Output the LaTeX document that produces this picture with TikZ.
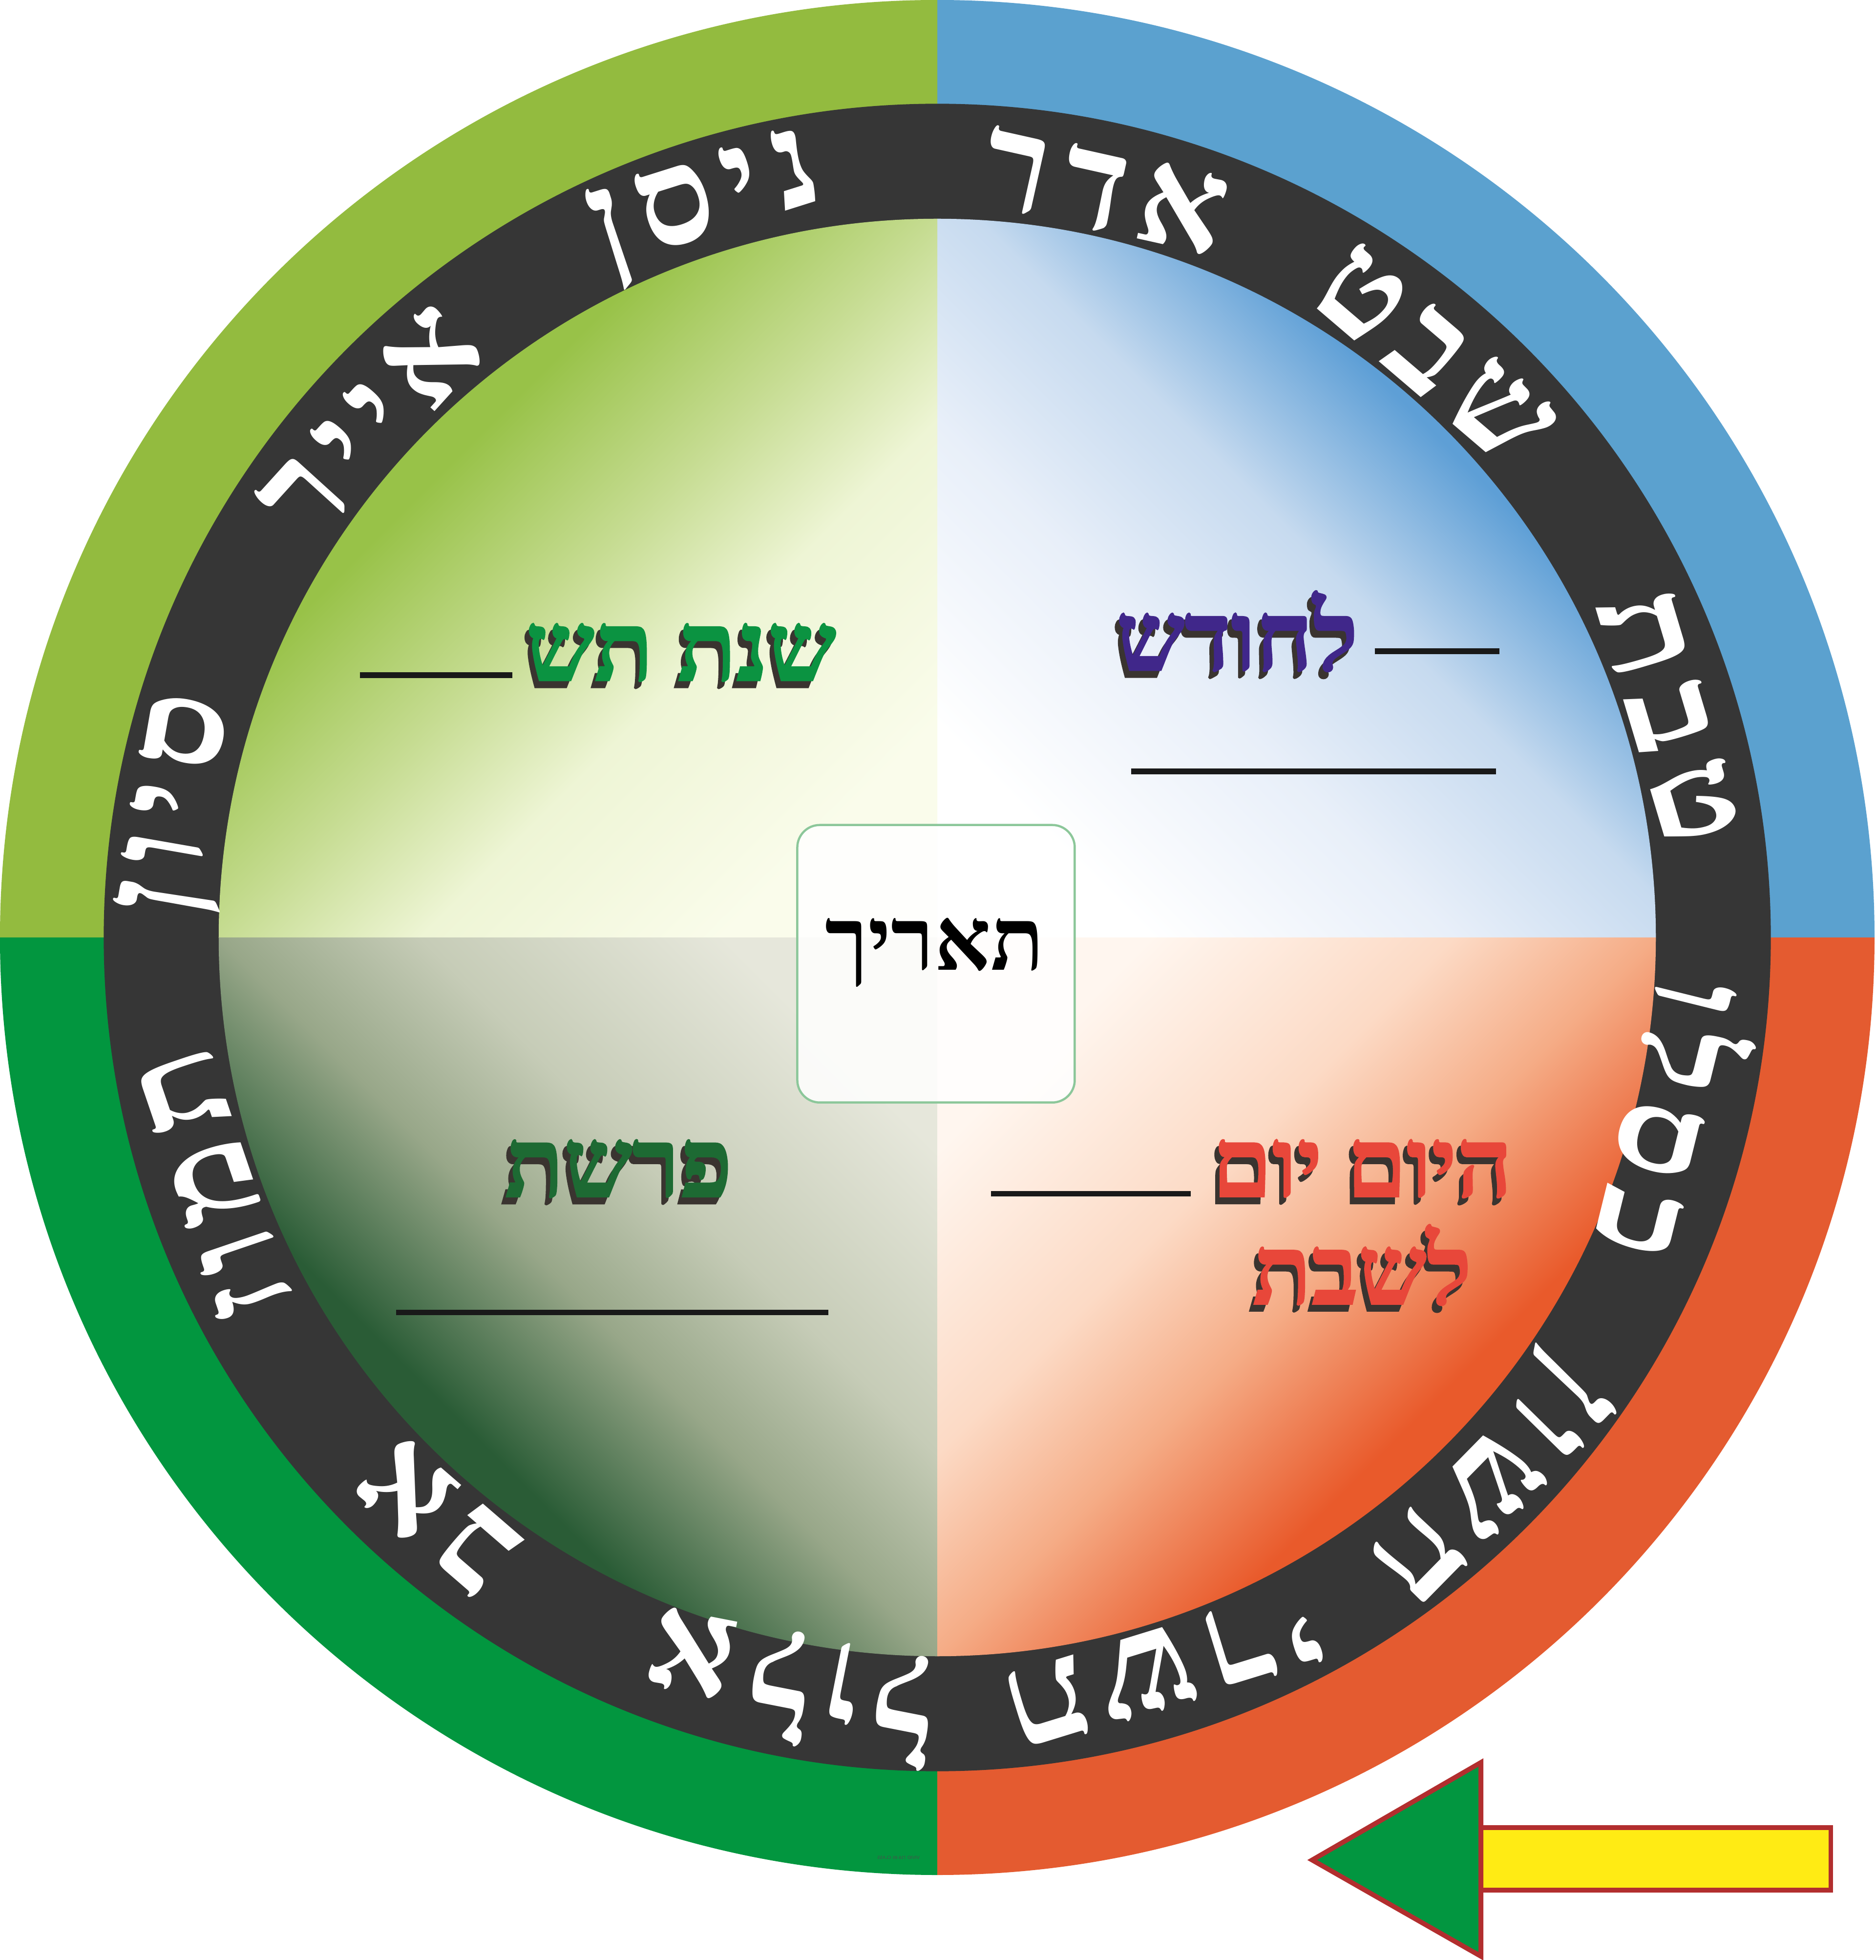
\documentclass[tikz,border=0pt]{standalone}
\usepackage{fontspec}
\usepackage{xcolor}
\usetikzlibrary{positioning}
\newfontfamily\hebfont[Script=Hebrew]{Liberation Serif}
\TeXXeTstate=1

\definecolor{ringTL}{HTML}{93BB3F}
\definecolor{ringTR}{HTML}{5BA1CF}
\definecolor{ringBR}{HTML}{E45B30}
\definecolor{ringBL}{HTML}{02963F}
\definecolor{band}{HTML}{363636}
\definecolor{shadowbrown}{HTML}{3A3430}
\definecolor{txtgreen}{HTML}{0B9341}
\definecolor{txtpurple}{HTML}{40278A}
\definecolor{txtred}{HTML}{E8473A}
\definecolor{txtdkgreen}{HTML}{1D6A33}
\definecolor{boxline}{HTML}{8CC79A}
\definecolor{arrowred}{HTML}{B22E2E}
\definecolor{arrowyellow}{HTML}{FFEB14}
\definecolor{arrowgreen}{HTML}{029640}
% quadrant gradients
\definecolor{tlIn}{HTML}{FAFCEB}\definecolor{tlA}{HTML}{EEF5D5}\definecolor{tlB}{HTML}{C6DC92}\definecolor{tlOut}{HTML}{98C248}
\definecolor{trIn}{HTML}{FFFFFF}\definecolor{trA}{HTML}{E8EFF9}\definecolor{trB}{HTML}{C6DAEF}\definecolor{trOut}{HTML}{5E9FD6}
\definecolor{brIn}{HTML}{FFF6EF}\definecolor{brA}{HTML}{FCDAC5}\definecolor{brB}{HTML}{F5AC86}\definecolor{brOut}{HTML}{E95A2B}
\definecolor{blIn}{HTML}{E6E7DB}\definecolor{blA}{HTML}{C6CCB7}\definecolor{blB}{HTML}{98A789}\definecolor{blOut}{HTML}{2A5C36}
\pgfdeclareverticalshading{quadTL}{100bp}{color(0bp)=(tlIn); color(25bp)=(tlIn); color(40bp)=(tlA); color(50bp)=(tlB); color(62bp)=(tlOut); color(100bp)=(tlOut)}
\pgfdeclareverticalshading{quadTR}{100bp}{color(0bp)=(trIn); color(25bp)=(trIn); color(40bp)=(trA); color(52bp)=(trB); color(64bp)=(trOut); color(100bp)=(trOut)}
\pgfdeclareverticalshading{quadBR}{100bp}{color(0bp)=(brIn); color(25bp)=(brIn); color(40bp)=(brA); color(50bp)=(brB); color(62bp)=(brOut); color(100bp)=(brOut)}
\pgfdeclareverticalshading{quadBL}{100bp}{color(0bp)=(blIn); color(25bp)=(blIn); color(40bp)=(blA); color(50bp)=(blB); color(62bp)=(blOut); color(100bp)=(blOut)}

\tikzset{
  month/.style={text=white,inner sep=0pt,font=\hebfont\bfseries\fontsize{31}{31}\selectfont\addfontfeature{LetterSpace=10}},
  heading/.style={inner sep=0pt,font=\hebfont\bfseries\fontsize{22}{22}\selectfont\addfontfeature{FakeBold=1.6}},
  blank/.style={line width=1.3pt,black!90},
  datebox/.style={draw=boxline,line width=0.5pt,fill=white,fill opacity=0.85,rounded corners=0.18cm,minimum size=2.22cm},
  arrowpart/.style={draw=arrowred,line width=1.1pt,line join=miter}
}
\newcommand{\shadowhead}[4]{%
  \node[heading,text=shadowbrown,xshift=-0.035cm,yshift=-0.055cm] at (#2) {#4};
  \node[heading,text=#3] (#1) at (#2) {#4};}

\begin{document}
\begin{tikzpicture}
  \useasboundingbox (-7.5,-8.18) rectangle (7.51,7.5);
  \fill[white] (-7.5,-8.18) rectangle (7.51,7.5);
  % outer ring
  \fill[ringTR] (0,0) -- (7.5,0) arc[start angle=0,end angle=90,radius=7.5] -- cycle;
  \fill[ringTL] (0,0) -- (0,7.5) arc[start angle=90,end angle=180,radius=7.5] -- cycle;
  \fill[ringBL] (0,0) -- (-7.5,0) arc[start angle=180,end angle=270,radius=7.5] -- cycle;
  \fill[ringBR] (0,0) -- (0,-7.5) arc[start angle=270,end angle=360,radius=7.5] -- cycle;
  \fill[band] (0,0) circle (6.67);
  % inner quadrants
  \shade[shading=quadTR,shading angle=-45] (0,0) -- (5.75,0) arc[start angle=0,end angle=90,radius=5.75] -- cycle;
  \shade[shading=quadTL,shading angle=45] (0,0) -- (0,5.75) arc[start angle=90,end angle=180,radius=5.75] -- cycle;
  \shade[shading=quadBL,shading angle=135] (0,0) -- (-5.75,0) arc[start angle=180,end angle=270,radius=5.75] -- cycle;
  \shade[shading=quadBR,shading angle=-135] (0,0) -- (0,-5.75) arc[start angle=270,end angle=360,radius=5.75] -- cycle;
  % months
  \foreach \ang/\name [count=\i] in {107.5/ניסן,77.4/אדר,49.5/שבט,16.7/טבת,346.1/כסלו,315.5/חשון,287.1/תשרי,258.9/אלול,229.2/אב,198.8/תמוז,170.1/סיון,137.8/אייר}
    \node[month,rotate=\ang-90] (m\i) at (\ang:6.12) {\beginR\name\endR};
  % headings
  \shadowhead{year}{-2.05,2.28}{txtgreen}{\beginR שנת תש\endR}
  \shadowhead{month}{2.40,2.45}{txtpurple}{\beginR לחודש\endR}
  \shadowhead{day}{3.40,-1.85}{txtred}{\beginR היום יום\endR}
  \shadowhead{sabbath}{3.40,-2.62}{txtred}{\beginR לשבת\endR}
  \shadowhead{portion}{-2.55,-1.85}{txtdkgreen}{\beginR פרשת\endR}
  \draw[blank] (-4.62,2.10) -- (-3.40,2.10);
  \draw[blank] (3.50,2.29) -- (4.50,2.29);
  \draw[blank] (1.55,1.33) -- (4.47,1.33);
  \draw[blank] (0.43,-2.05) -- (2.03,-2.05);
  \draw[blank] (-4.33,-3.00) -- (-0.87,-3.00);
  % centre
  \node[datebox] (datebox) at (-0.01,-0.21) {};
  \node[font=\hebfont\bfseries\fontsize{20}{20}\selectfont,inner sep=0pt] (datelabel) at (-0.02,-0.12) {\beginR תאריך\endR};
  \node[font=\fontsize{1}{1}\selectfont\sffamily,text=black!70,xscale=-1,inner sep=0pt] (mark) at (-0.31,-7.36) {VIVID 718-85 CLASS};
  % arrow
  \draw[arrowpart,fill=arrowyellow] (4.35,-7.12) rectangle (7.15,-7.62);
  \draw[arrowpart,fill=arrowgreen] (3.0,-7.38) -- (4.35,-6.60) -- (4.35,-8.15) -- cycle;
\end{tikzpicture}
\end{document}
